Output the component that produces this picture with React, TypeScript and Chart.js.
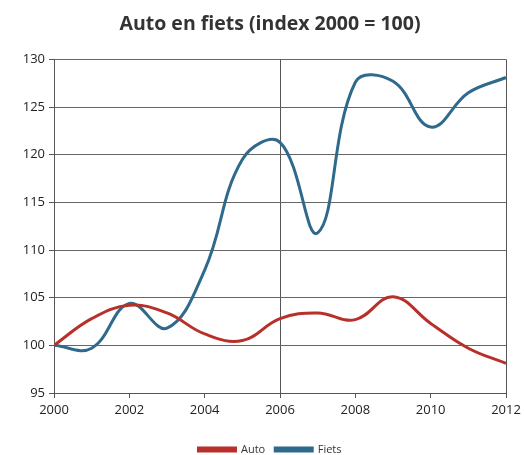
import React, { useEffect, useRef } from "react";
import { Chart, registerables } from "chart.js";

Chart.register(...registerables);

const years = [2000, 2001, 2002, 2003, 2004, 2005, 2006, 2007, 2008, 2009, 2010, 2011, 2012];
const autoValues = [100, 102.8, 104.2, 103.4, 101.2, 100.5, 102.8, 103.4, 102.7, 105.1, 102.3, 99.7, 98.1];
const fietsValues = [100, 99.7, 104.4, 101.8, 107.9, 119.5, 121.3, 111.8, 127.6, 127.7, 122.9, 126.5, 128.1];
const yTicks = [95, 100, 105, 110, 115, 120, 125, 130];
const xTicks = [2000, 2002, 2004, 2006, 2008, 2010, 2012];
const titleText = "Auto en fiets (index 2000 = 100)";
const autoColor = "#B8302A";
const fietsColor = "#2F6A8C";
const FONT = "'Open Sans', 'DejaVu Sans', sans-serif";

export default function App() {
  const ref = useRef<HTMLCanvasElement | null>(null);
  useEffect(() => {
    document.body.style.margin = "0";
    if (!ref.current) return;
    const chart = new Chart(ref.current, {
      type: "line",
      data: {
        datasets: [
          {
            label: "Auto",
            data: years.map((x, i) => ({ x, y: autoValues[i] })),
            borderColor: autoColor,
            backgroundColor: autoColor,
            borderWidth: 3,
            pointRadius: 0,
            tension: 0.4,
          },
          {
            label: "Fiets",
            data: years.map((x, i) => ({ x, y: fietsValues[i] })),
            borderColor: fietsColor,
            backgroundColor: fietsColor,
            borderWidth: 3,
            pointRadius: 0,
            tension: 0.4,
          },
        ],
      },
      options: {
        animation: false,
        responsive: false,
        maintainAspectRatio: false,
        layout: { padding: { left: 16, right: 0, top: 9, bottom: -10 } },
        plugins: {
          title: {
            display: true,
            text: titleText,
            color: "#333",
            font: { family: FONT, size: 19.5, weight: "bold" },
            padding: { top: 4, bottom: 23 },
          },
          legend: {
            display: true,
            position: "bottom",
            labels: {
              boxWidth: 37,
              boxHeight: 3,
              color: "#333",
              font: { family: FONT, size: 11 },
              padding: 10,
            },
          },
          tooltip: { enabled: false },
        },
        scales: {
          x: {
            type: "linear",
            min: 2000,
            max: 2012,
            afterBuildTicks: (s: any) => {
              s.ticks = xTicks.map((v) => ({ value: v }));
            },
            afterFit: (s: any) => {
              s.height = 41;
              s.paddingRight = 18;
            },
            ticks: {
              color: "#222",
              font: { family: FONT, size: 13 },
              callback: (v: any) => String(v),
              maxRotation: 0,
              padding: 4,
            },
            grid: {
              color: (c: any) =>
                c.tick && (c.tick.value === 2006 || c.tick.value === 2012) ? "#555" : "rgba(0,0,0,0)",
              tickColor: "#555",
              tickLength: 5,
              lineWidth: 1,
            },
            border: { color: "#555", width: 1 },
          },
          y: {
            min: 95,
            max: 130,
            afterBuildTicks: (s: any) => {
              s.ticks = yTicks.map((v) => ({ value: v }));
            },
            afterFit: (s: any) => {
              s.width = 38;
            },
            ticks: {
              color: "#222",
              font: { family: FONT, size: 13 },
              padding: 4,
            },
            grid: {
              color: "#666",
              tickColor: "#555",
              tickLength: 5,
              lineWidth: 1,
            },
            border: { color: "#555", width: 1 },
          },
        },
      },
    });
    return () => chart.destroy();
  }, []);
  return (
    <div style={{ position: "absolute", left: 0, top: 0, width: 524, height: 455, background: "#fff" }}>
      <canvas ref={ref} width={524} height={455} style={{ width: 524, height: 455 }} />
    </div>
  );
}
